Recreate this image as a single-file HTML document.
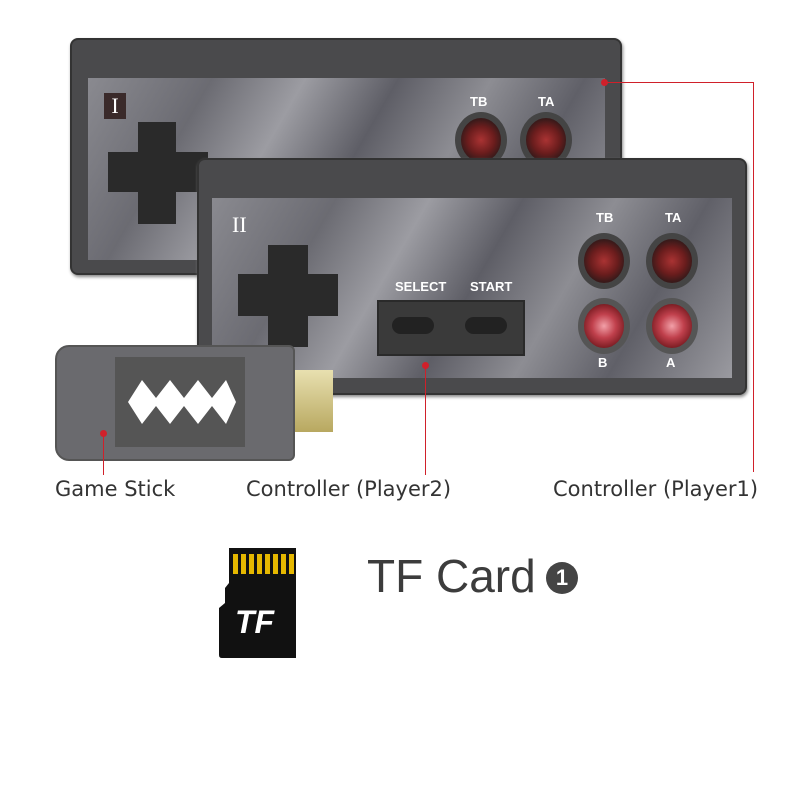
<!DOCTYPE html>
<html><head><style>
body{margin:0;width:800px;height:800px;background:#fff;position:relative;overflow:hidden;font-family:"Liberation Sans",sans-serif}
.a{position:absolute}
.ctrl{background:#4a4a4c;border:2px solid #333;border-radius:8px;box-shadow:1px 2px 3px #888}
.camo{background:linear-gradient(120deg,#8a8a90 0%,#6b6b72 20%,#9c9ca2 35%,#5e5e66 50%,#8d8d93 65%,#606068 80%,#9a9aa0 100%)}
.dpad{background:#2a2a2a}
.btn{border-radius:50%;background:radial-gradient(circle at 50% 50%,#a33 0,#6b1d1d 45%,#3a1a1a 70%);border:6px solid #444}
.btn2{border-radius:50%;background:radial-gradient(circle,#f2a0a8 0,#c0404c 40%,#7a1c22 75%);border:6px solid #555}
.lbl{color:#fff;font-weight:bold;font-size:13px;font-family:"Liberation Sans Narrow","Liberation Sans",sans-serif}
.red{background:#d0202a}
.t{font-size:21px;color:#333;font-family:"DejaVu Sans",sans-serif}
</style></head><body>
<div class="a ctrl" style="left:70px;top:38px;width:548px;height:233px"></div>
<div class="a camo" style="left:88px;top:78px;width:517px;height:182px"></div>
<div class="a" style="left:104px;top:93px;width:22px;height:26px;background:#3a2a2a;color:#fff;font:22px 'Liberation Serif',serif;text-align:center">I</div>
<div class="a dpad" style="left:138px;top:122px;width:38px;height:102px"></div>
<div class="a dpad" style="left:108px;top:152px;width:100px;height:40px"></div>
<div class="a lbl" style="left:470px;top:94px">TB</div>
<div class="a lbl" style="left:538px;top:94px">TA</div>
<div class="a btn" style="left:455px;top:112px;width:40px;height:44px"></div>
<div class="a btn" style="left:520px;top:112px;width:40px;height:44px"></div>
<div class="a ctrl" style="left:197px;top:158px;width:546px;height:233px"></div>
<div class="a camo" style="left:212px;top:198px;width:520px;height:180px"></div>
<div class="a" style="left:232px;top:212px;color:#fff;font:22px 'Liberation Serif',serif">II</div>
<div class="a dpad" style="left:268px;top:245px;width:40px;height:102px"></div>
<div class="a dpad" style="left:238px;top:274px;width:100px;height:42px"></div>
<div class="a lbl" style="left:395px;top:279px">SELECT</div>
<div class="a lbl" style="left:470px;top:279px">START</div>
<div class="a" style="left:377px;top:300px;width:144px;height:52px;background:#3a3a3a;border:2px solid #2a2a2a"></div>
<div class="a" style="left:392px;top:317px;width:42px;height:17px;border-radius:9px;background:#222"></div>
<div class="a" style="left:465px;top:317px;width:42px;height:17px;border-radius:9px;background:#222"></div>
<div class="a lbl" style="left:596px;top:210px">TB</div>
<div class="a lbl" style="left:665px;top:210px">TA</div>
<div class="a btn" style="left:578px;top:233px;width:40px;height:44px"></div>
<div class="a btn" style="left:646px;top:233px;width:40px;height:44px"></div>
<div class="a btn2" style="left:578px;top:298px;width:40px;height:44px"></div>
<div class="a btn2" style="left:646px;top:298px;width:40px;height:44px"></div>
<div class="a lbl" style="left:598px;top:355px">B</div>
<div class="a lbl" style="left:666px;top:355px">A</div>
<div class="a" style="left:293px;top:370px;width:40px;height:62px;background:linear-gradient(#e8e0b0,#b8a860)"></div>
<div class="a" style="left:55px;top:345px;width:236px;height:112px;background:#6a6a6e;border:2px solid #555;border-radius:14px 6px 6px 14px"></div>
<div class="a" style="left:115px;top:357px;width:130px;height:90px;background:#555"></div>
<svg class="a" style="left:128px;top:376px" width="110" height="52"><polygon points="0,26 14,4 28,22 42,4 56,22 70,4 84,22 98,4 108,26 98,48 84,30 70,48 56,30 42,48 28,30 14,48" fill="#fff"/></svg>
<div class="a red" style="left:601px;top:79px;width:7px;height:7px;border-radius:50%"></div>
<div class="a red" style="left:604px;top:82px;width:150px;height:1px"></div>
<div class="a red" style="left:753px;top:82px;width:1px;height:390px"></div>
<div class="a red" style="left:422px;top:362px;width:7px;height:7px;border-radius:50%"></div>
<div class="a red" style="left:425px;top:365px;width:1px;height:110px"></div>
<div class="a red" style="left:100px;top:430px;width:7px;height:7px;border-radius:50%"></div>
<div class="a red" style="left:103px;top:433px;width:1px;height:42px"></div>
<div class="a t" style="left:55px;top:477px">Game Stick</div>
<div class="a t" style="left:246px;top:477px">Controller (Player2)</div>
<div class="a t" style="left:553px;top:477px">Controller (Player1)</div>
<svg class="a" style="left:219px;top:548px" width="80" height="110">
<path d="M10,0 H77 V110 H3 Q0,110 0,107 V60 L6,55 V40 L10,35 Z" fill="#111"/>
<g fill="#e6b800"><rect x="14" y="6" width="5" height="20"/><rect x="22" y="6" width="5" height="20"/><rect x="30" y="6" width="5" height="20"/><rect x="38" y="6" width="5" height="20"/><rect x="46" y="6" width="5" height="20"/><rect x="54" y="6" width="5" height="20"/><rect x="62" y="6" width="5" height="20"/><rect x="70" y="6" width="5" height="20"/></g>
<text x="16" y="85" fill="#fff" font-family="Liberation Sans" font-weight="bold" font-style="italic" font-size="32">TF</text>
</svg>
<div class="a" style="left:367px;top:549px;font-size:46px;color:#3c3c3c">TF Card</div>
<div class="a" style="left:546px;top:562px;width:32px;height:32px;border-radius:50%;background:#444;color:#fff;font-weight:bold;font-size:22px;text-align:center;line-height:32px">1</div>
</body></html>
